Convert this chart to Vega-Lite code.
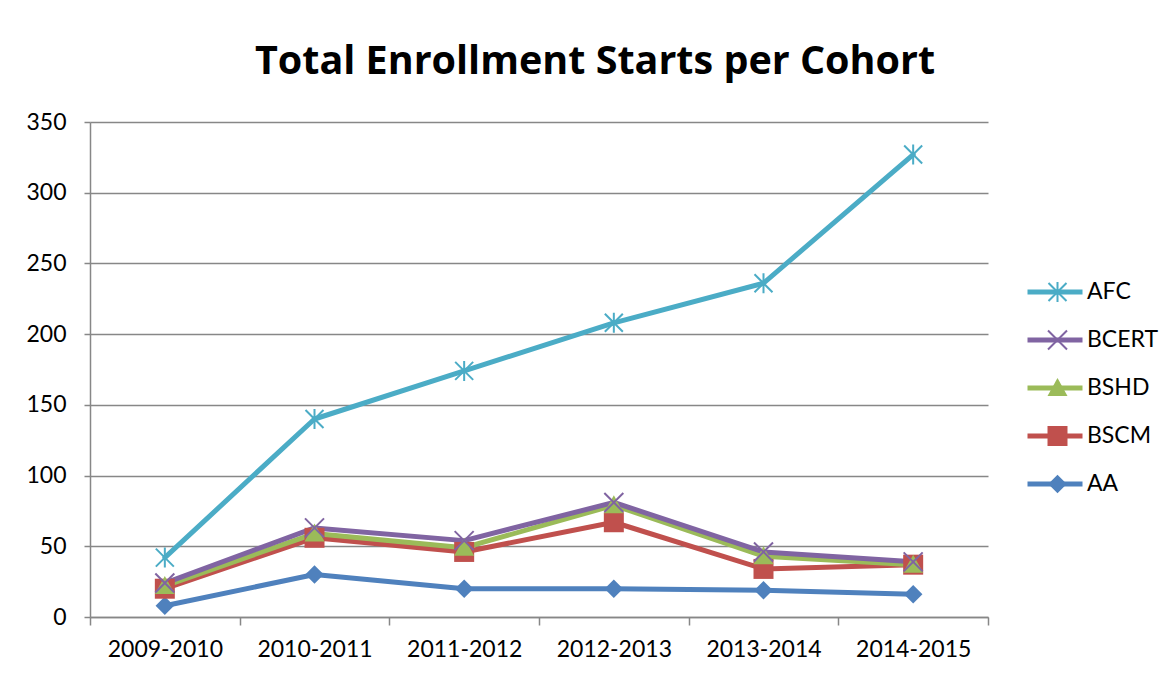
{
  "$schema": "https://vega.github.io/schema/vega-lite/v6.json",
  "width": 898,
  "height": 495,
  "autosize": {"type": "none"},
  "padding": {"left": 90, "top": 122, "right": 188, "bottom": 63},
  "background": "white",
  "config": {"view": {"stroke": null}},
  "title": {"text": "Total Enrollment Starts per Cohort", "font": "Open Sans", "fontSize": 39.5, "fontWeight": "bold", "color": "#000000", "anchor": "middle", "dx": 56, "offset": 29},
  "data": {"values": [
    {"series": "AA", "cohort": "2009-2010", "value": 8},
    {"series": "AA", "cohort": "2010-2011", "value": 30},
    {"series": "AA", "cohort": "2011-2012", "value": 20},
    {"series": "AA", "cohort": "2012-2013", "value": 20},
    {"series": "AA", "cohort": "2013-2014", "value": 19},
    {"series": "AA", "cohort": "2014-2015", "value": 16},
    {"series": "BSCM", "cohort": "2009-2010", "value": 20},
    {"series": "BSCM", "cohort": "2010-2011", "value": 56},
    {"series": "BSCM", "cohort": "2011-2012", "value": 46},
    {"series": "BSCM", "cohort": "2012-2013", "value": 67},
    {"series": "BSCM", "cohort": "2013-2014", "value": 34},
    {"series": "BSCM", "cohort": "2014-2015", "value": 37},
    {"series": "BSHD", "cohort": "2009-2010", "value": 22},
    {"series": "BSHD", "cohort": "2010-2011", "value": 59},
    {"series": "BSHD", "cohort": "2011-2012", "value": 49},
    {"series": "BSHD", "cohort": "2012-2013", "value": 79},
    {"series": "BSHD", "cohort": "2013-2014", "value": 43},
    {"series": "BSHD", "cohort": "2014-2015", "value": 37},
    {"series": "BCERT", "cohort": "2009-2010", "value": 24},
    {"series": "BCERT", "cohort": "2010-2011", "value": 63},
    {"series": "BCERT", "cohort": "2011-2012", "value": 54},
    {"series": "BCERT", "cohort": "2012-2013", "value": 81},
    {"series": "BCERT", "cohort": "2013-2014", "value": 46},
    {"series": "BCERT", "cohort": "2014-2015", "value": 39},
    {"series": "AFC", "cohort": "2009-2010", "value": 42},
    {"series": "AFC", "cohort": "2010-2011", "value": 140},
    {"series": "AFC", "cohort": "2011-2012", "value": 174},
    {"series": "AFC", "cohort": "2012-2013", "value": 208},
    {"series": "AFC", "cohort": "2013-2014", "value": 236},
    {"series": "AFC", "cohort": "2014-2015", "value": 327}
  ]},
  "encoding": {
    "x": {"field": "cohort", "type": "ordinal", "sort": ["2009-2010", "2010-2011", "2011-2012", "2012-2013", "2013-2014", "2014-2015"],
      "scale": {"type": "band", "paddingInner": 0, "paddingOuter": 0},
      "axis": {"title": null, "tickBand": "extent", "grid": false, "domainColor": "#878787", "domainWidth": 1.5, "tickColor": "#878787", "tickWidth": 1.5, "tickSize": 8, "labelFont": "Lato", "labelFontSize": 23, "labelColor": "#000000", "labelPadding": 13, "labelAngle": 0}},
    "y": {"field": "value", "type": "quantitative", "scale": {"domain": [0, 350]},
      "axis": {"title": null, "values": [0, 50, 100, 150, 200, 250, 300, 350], "grid": true, "gridColor": "#878787", "gridWidth": 1.5, "domainColor": "#878787", "domainWidth": 1.5, "tickColor": "#878787", "tickWidth": 1.5, "tickSize": 6, "labelFont": "Lato", "labelFontSize": 23, "labelColor": "#000000", "labelPadding": 18}}
  },
  "layer": [
    {"mark": {"type": "line", "strokeWidth": 5, "strokeJoin": "round", "strokeCap": "round"},
      "encoding": {
        "stroke": {"field": "series", "type": "nominal", "sort": ["AFC", "BCERT", "BSHD", "BSCM", "AA"],
          "scale": {"range": ["#4BACC6", "#8064A2", "#9BBB59", "#C0504D", "#4F81BD"]},
          "legend": {"title": null, "orient": "none", "legendX": 935, "legendY": 158, "symbolType": "stroke", "symbolSize": 3025, "symbolStrokeWidth": 5, "clipHeight": 24, "rowPadding": 24, "labelOffset": 2, "labelFont": "Lato", "labelFontSize": 23, "labelColor": "#000000"}}
      }},
    {"mark": {"type": "point", "filled": true, "size": 100, "opacity": 1, "strokeWidth": 0},
      "encoding": {
        "fill": {"field": "series", "type": "nominal",
          "scale": {"domain": ["AFC", "BCERT", "BSHD", "BSCM", "AA"], "range": ["#4BACC6", "#8064A2", "#9BBB59", "#C0504D", "#4F81BD"]},
          "legend": {"title": null, "orient": "none", "legendX": 956, "legendY": 158, "symbolSize": 100, "symbolStrokeWidth": 0, "symbolOpacity": 1, "clipHeight": 24, "rowPadding": 24, "labelExpr": "''", "labelFontSize": 23}},
        "shape": {"field": "series", "type": "nominal",
          "scale": {"domain": ["AFC", "BCERT", "BSHD", "BSCM", "AA"], "range": [
            "M-0.2,-2H0.2V2H-0.2ZM-1.659,-1.941L1.941,1.659L1.659,1.941L-1.941,-1.659ZM-1.941,1.659L1.659,-1.941L1.941,-1.659L-1.659,1.941Z",
            "M-1.759,-2.041L2.041,1.759L1.759,2.041L-2.041,-1.759ZM-2.041,1.759L1.759,-2.041L2.041,-1.759L-1.759,2.041Z",
            "M0,-2L2,1.6H-2Z",
            "M-2,-2H2V2H-2Z",
            "M0,-1.85L1.85,0L0,1.85L-1.85,0Z"]},
          "legend": {"title": null, "orient": "none", "legendX": 956, "legendY": 158, "symbolSize": 100, "symbolStrokeWidth": 0, "symbolOpacity": 1, "clipHeight": 24, "rowPadding": 24, "labelExpr": "''", "labelFontSize": 23}}
      }}
  ]
}
